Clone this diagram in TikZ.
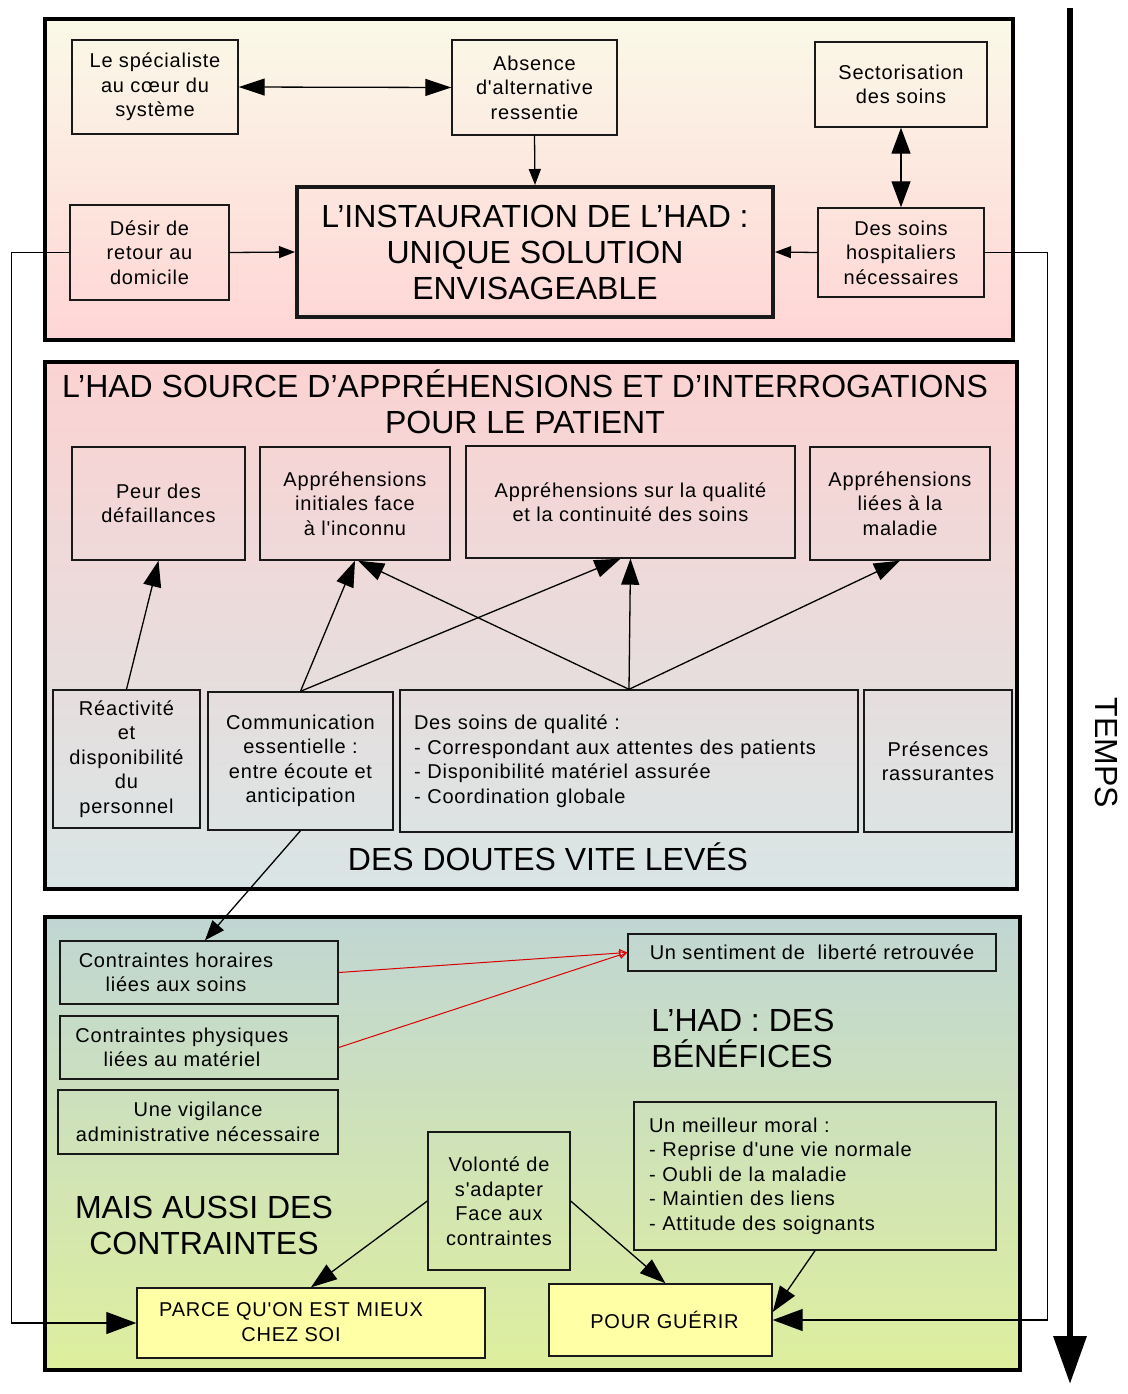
\documentclass[tikz,border=0pt]{standalone}
\usepackage{fontspec}
\setmainfont{Liberation Sans}
\newfontfamily\smfam[LetterSpace=4]{Liberation Sans}
\usetikzlibrary{arrows.meta,shadings}
\newcommand\smtxt{\smfam\fontsize{20}{24.5}\selectfont}
\newcommand\bigtxt{\fontsize{32}{36}\selectfont}
\definecolor{sAtop}{RGB}{250,249,232}
\definecolor{sAbot}{RGB}{255,213,213}
\definecolor{sBtop}{RGB}{252,210,210}
\definecolor{sBbot}{RGB}{217,229,229}
\definecolor{sCtop}{RGB}{192,214,211}
\definecolor{sCbot}{RGB}{222,239,157}
\definecolor{yel}{RGB}{255,255,166}
\definecolor{ink}{RGB}{25,25,25}
\begin{document}
\begin{tikzpicture}[x=1pt,y=-1pt,
  sect/.style={draw=black, line width=4pt, inner sep=0pt},
  box/.style={draw=ink, line width=1.4pt, inner sep=0pt, align=center, font=\smtxt},
  txt/.style={inner sep=0pt, align=center, font=\smtxt},
  ttl/.style={inner sep=0pt, align=center, font=\bigtxt},
  conn/.style={line width=1.3pt, draw=black},
  tipS/.style={conn, -{Triangle[length=16pt,width=12pt]}},
  tipM/.style={conn, -{Triangle[length=26pt,width=18pt]}},
  tipD/.style={conn, {Triangle[length=26pt,width=17pt]}-{Triangle[length=26pt,width=17pt]}},
  tipL/.style={conn, -{Triangle[length=30pt,width=22pt]}},
  redarr/.style={line width=1pt, draw=red!85!black, -{Triangle[open,length=8pt,width=8pt]}}
]
\useasboundingbox (0,0) rectangle (1127,1394);

% sections
\node[sect, top color=sAtop, bottom color=sAbot, minimum width=968pt, minimum height=321pt] (secA) at (529,179.5) {};
\node[sect, top color=sBtop, bottom color=sBbot, minimum width=972pt, minimum height=527pt] (secB) at (531,625.5) {};
\node[sect, top color=sCtop, bottom color=sCbot, minimum width=975pt, minimum height=453pt] (secC) at (532.5,1143.5) {};

% section 1
\node[box, minimum width=166pt, minimum height=94pt] (spec) at (155,87) {Le spécialiste\\au cœur du\\système};
\node[box, minimum width=165pt, minimum height=95pt] (absence) at (534.5,87.5) {Absence\\d'alternative\\ressentie};
\node[box, minimum width=172pt, minimum height=85pt] (sector) at (901,84.5) {Sectorisation\\des soins};
\node[box, line width=4pt, font=\bigtxt, minimum width=476pt, minimum height=130pt] (main) at (535,252) {L'INSTAURATION DE L'HAD :\\UNIQUE SOLUTION\\ENVISAGEABLE};
\node[box, minimum width=159pt, minimum height=95pt] (desir) at (149.5,252.5) {Désir de\\retour au\\domicile};
\node[box, minimum width=166pt, minimum height=89pt] (hosp) at (901,252.5) {Des soins\\hospitaliers\\nécessaires};

% section 2
\node[ttl] (titleB) at (525,402) {L'HAD SOURCE D'APPRÉHENSIONS ET D'INTERROGATIONS\\POUR LE PATIENT};
\node[box, minimum width=173pt, minimum height=113pt] (peur) at (158.5,503.5) {Peur des\\défaillances};
\node[box, minimum width=190pt, minimum height=113pt] (appinit) at (355,503.5) {Appréhensions\\initiales face\\à l'inconnu};
\node[box, minimum width=329pt, minimum height=112pt] (appqual) at (630.5,502) {Appréhensions sur la qualité\\et la continuité des soins};
\node[box, minimum width=180pt, minimum height=113pt] (appmal) at (900,503.5) {Appréhensions\\liées à la\\maladie};
\node[box, minimum width=147pt, minimum height=138pt] (react) at (126.5,759) {Réactivité\\et\\disponibilité\\du\\personnel};
\node[box, minimum width=185pt, minimum height=138pt] (comm) at (300.5,761) {Communication\\essentielle :\\entre écoute et\\anticipation};
\node[box, align=left, text width=430pt, minimum width=458pt, minimum height=142pt] (soins) at (629,761) {Des soins de qualité :\\- Correspondant aux attentes des patients\\- Disponibilité matériel assurée\\- Coordination globale};
\node[box, minimum width=148pt, minimum height=142pt] (pres) at (938,761) {Présences\\rassurantes};
\node[ttl] (doutes) at (548,857) {DES DOUTES VITE LEVÉS};

% section 3
\node[box, minimum width=278pt, minimum height=63pt] (horaires) at (199,972.5) {};
\node[txt] (horairesT) at (176,972.5) {Contraintes horaires\\liées aux soins};
\node[box, minimum width=278pt, minimum height=63pt] (physiques) at (199,1047.5) {};
\node[txt] (physiquesT) at (182,1047.5) {Contraintes physiques\\liées au matériel};
\node[box, minimum width=280pt, minimum height=64pt] (vigil) at (198,1122) {Une vigilance\\administrative nécessaire};
\node[box, minimum width=368pt, minimum height=37pt] (liberte) at (812,952.5) {Un sentiment de~ liberté retrouvée};
\node[ttl, align=left] (benef) at (743,1038) {L'HAD : DES\\BÉNÉFICES};
\node[box, align=left, text width=332pt, minimum width=362pt, minimum height=148pt] (moral) at (815,1176) {Un meilleur moral :\\- Reprise d'une vie normale\\- Oubli de la maladie\\- Maintien des liens\\- Attitude des soignants};
\node[box, minimum width=142pt, minimum height=138pt] (volonte) at (499,1201) {Volonté de\\s'adapter\\Face aux\\contraintes};
\node[ttl] (mais) at (204,1225) {MAIS AUSSI DES\\CONTRAINTES};
\node[box, fill=yel, minimum width=348pt, minimum height=70pt] (parce) at (311,1323) {};
\node[txt] (parceT) at (291,1322) {PARCE QU'ON EST MIEUX\\CHEZ SOI};
\node[box, fill=yel, minimum width=223pt, minimum height=72pt] (guerir) at (660.5,1320) {\hspace*{8pt}POUR GUÉRIR};

% time axis
\coordinate (ttop) at (1070,8);
\coordinate (tbot) at (1070,1384);
\draw[line width=6.5pt, -{Triangle[length=48pt,width=32pt]}] (ttop) -- (tbot);
\node[ttl, rotate=-90] (temps) at (1106,753) {TEMPS};

% connectors section 1
\draw[tipD] (spec.east) -- (absence.west);
\draw[tipS] (absence.south) -- (main.north);
\draw[tipS] (desir.east) -- (main.west);
\draw[tipS] (hosp.west) -- (main.east);
\draw[conn, {Triangle[length=26pt,width=19pt]}-{Triangle[length=26pt,width=19pt]}] (sector.south) -- (hosp.north);

% loops
\draw[tipL] (desir.west) -- ++(-58,0) |- (parce.west);
\draw[tipL] (hosp.east) -- ++(63,0) |- (guerir.east);

% connectors section 2
\draw[tipM] (react.north) -- (peur.south);
\draw[tipM] (comm.north) -- (appinit.south);
\draw[tipM] (comm.north) -- ([xshift=-10pt]appqual.south);
\draw[tipM] (soins.north) -- ([xshift=3pt]appinit.south);
\draw[tipM] (soins.north) -- (appqual.south);
\draw[tipM] (soins.north) -- (appmal.south);
\draw[conn, -{Triangle[length=20pt,width=15pt]}] (comm.south) -- ([xshift=6pt]horaires.north);

% connectors section 3
\draw[redarr] (horaires.east) -- (liberte.west);
\draw[redarr] (physiques.east) -- (liberte.west);
\draw[tipM] (volonte.west) -- (parce.north);
\draw[tipM] (volonte.east) -- ([xshift=5pt]guerir.north);
\draw[tipM] (moral.south) -- ([yshift=8pt]guerir.east);
\end{tikzpicture}
\end{document}
